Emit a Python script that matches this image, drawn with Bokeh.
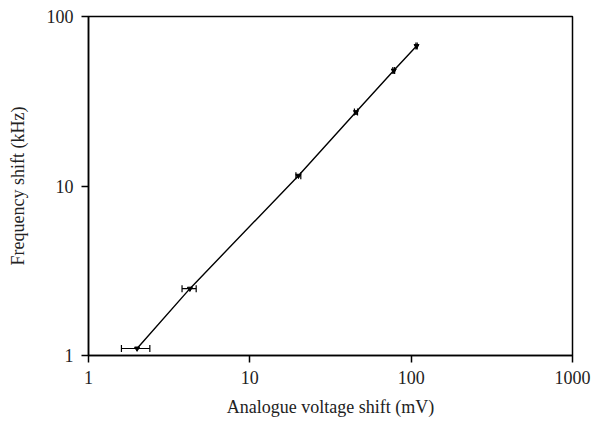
from bokeh.plotting import figure
from bokeh.models import ColumnDataSource, Whisker, TeeHead, FixedTicker, PrintfTickFormatter, Range1d
from bokeh.embed import file_html
from bokeh.resources import INLINE

# data
voltage_mv = [2.0, 4.25, 20.0, 45.5, 78.0, 108.0]
freq_khz = [1.1, 2.48, 11.5, 27.3, 48.0, 67.0]
v_err_low = [1.6, 3.8, 19.3, 44.5, 77.0, 107.0]
v_err_high = [2.4, 4.65, 20.7, 46.5, 79.0, 109.0]
x_ticks = [1, 10, 100, 1000]
y_ticks = [1, 10, 100]

FONT = "Liberation Serif"

p = figure(
    width=592, height=422,
    x_axis_type="log", y_axis_type="log",
    x_range=Range1d(1, 1000), y_range=Range1d(1, 100),
    output_backend="svg", toolbar_location=None,
    min_border_left=88, min_border_right=20, min_border_top=16, min_border_bottom=67,
)
p.frame_width = 484
p.frame_height = 339

src = ColumnDataSource(dict(x=voltage_mv, y=freq_khz, lo=v_err_low, hi=v_err_high))

p.line("x", "y", source=src, line_color="black", line_width=1.4)
w = Whisker(source=src, base="y", lower="lo", upper="hi", dimension="width",
            line_color="black", line_width=1.2,
            lower_head=TeeHead(size=7, line_color="black", line_width=1.2),
            upper_head=TeeHead(size=7, line_color="black", line_width=1.2))
p.add_layout(w)
p.scatter("x", "y", source=src, marker="inverted_triangle", size=5,
          fill_color="black", line_color="black")

p.xgrid.visible = False
p.ygrid.visible = False
p.outline_line_color = "black"
p.outline_line_width = 1.5
p.outline_line_alpha = 1

p.xaxis.ticker = FixedTicker(ticks=x_ticks)
p.yaxis.ticker = FixedTicker(ticks=y_ticks)
p.xaxis.formatter = PrintfTickFormatter(format="%d")
p.yaxis.formatter = PrintfTickFormatter(format="%d")

for ax in (p.xaxis, p.yaxis):
    ax.axis_line_color = "black"
    ax.axis_line_width = 1.5
    ax.major_tick_line_color = "black"
    ax.major_tick_line_width = 1.5
    ax.major_tick_in = 0
    ax.major_tick_out = 7
    ax.minor_tick_line_color = None
    ax.major_label_text_font = FONT
    ax.major_label_text_font_size = "18px"
    ax.major_label_text_color = "#222222"
    ax.axis_label_text_font = FONT
    ax.axis_label_text_font_size = "18px"
    ax.axis_label_text_font_style = "normal"
    ax.axis_label_text_color = "#222222"

p.xaxis.axis_label = "Analogue voltage shift (mV)"
p.yaxis.axis_label = "Frequency shift (kHz)"
p.xaxis.major_label_standoff = 8
p.xaxis.axis_label_standoff = 10
p.yaxis.major_label_standoff = 8
p.yaxis.axis_label_standoff = 16

open("out.html", "w").write(file_html(p, INLINE))
